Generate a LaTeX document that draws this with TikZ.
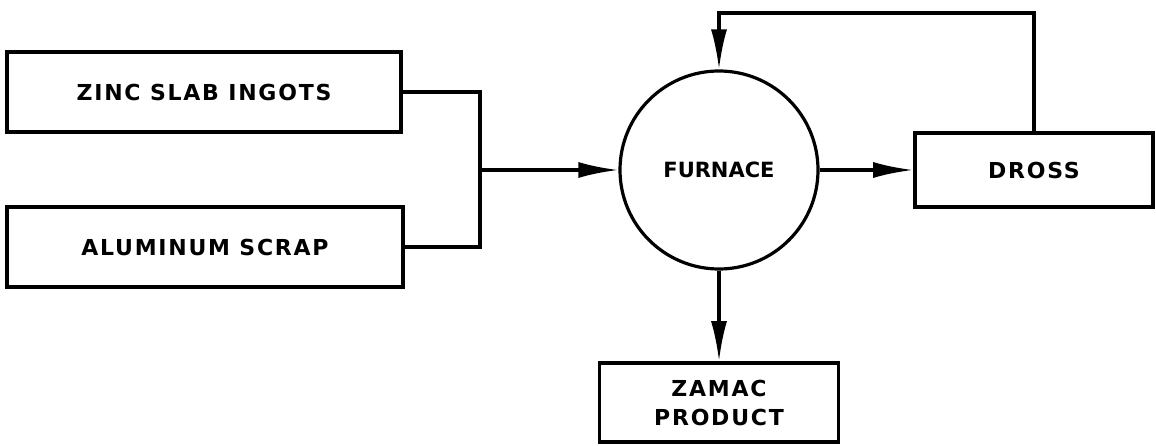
\documentclass[tikz,border=0pt]{standalone}
\usepackage{fontspec}
\setmainfont{DejaVu Sans}
\newfontfamily\boxfont{DejaVu Sans}[LetterSpace=8]
\newfontfamily\furnacefont{DejaVu Sans}[LetterSpace=0]
\usetikzlibrary{arrows.meta,positioning}
\usepackage{xcolor}
\definecolor{ink}{HTML}{000000}
\tikzset{
  base/.style={font=\boxfont\bfseries\fontsize{22}{29}\selectfont, text=ink},
  box/.style={base, draw=ink, line width=3.6pt, fill=white, align=center, inner sep=0pt},
  furnacebox/.style={base, font=\furnacefont\bfseries\fontsize{21}{28}\selectfont, circle, draw=ink, line width=3.2pt, inner sep=0pt},
  link/.style={line width=3.2pt, draw=ink},
  arrow/.style={link, -{Latex[length=40pt,width=16pt]}},
}

\begin{document}
\begin{tikzpicture}[x=1pt,y=-1pt]
  \useasboundingbox (0,0) rectangle (1156,446);

  \node[box,minimum width=394pt,minimum height=80pt] (zinc) at (204,92) {ZINC SLAB INGOTS};
  \node[box,minimum width=396pt,minimum height=80pt] (scrap) at (205,247) {ALUMINUM SCRAP};
  \node[furnacebox,minimum size=198pt] (furnace) at (719,170) {FURNACE};
  \node[box,minimum width=238pt,minimum height=74pt] (dross) at (1034,170) {DROSS};
  \node[box,minimum width=239pt,minimum height=79pt] (zamac) at (719,402.5) {ZAMAC\\PRODUCT};

  \coordinate (merge) at (480,170);
  \coordinate (loop) at (1034,13);

  \draw[link] (zinc.east) -| (merge);
  \draw[link] (scrap.east) -| (merge);
  \draw[arrow] (merge) -- (furnace.west);
  \draw[arrow] (furnace.east) -- (dross.west);
  \draw[arrow] (furnace.south) -- (zamac.north);
  \draw[arrow] (dross.north) -- (loop) -| (furnace.north);
\end{tikzpicture}
\end{document}
